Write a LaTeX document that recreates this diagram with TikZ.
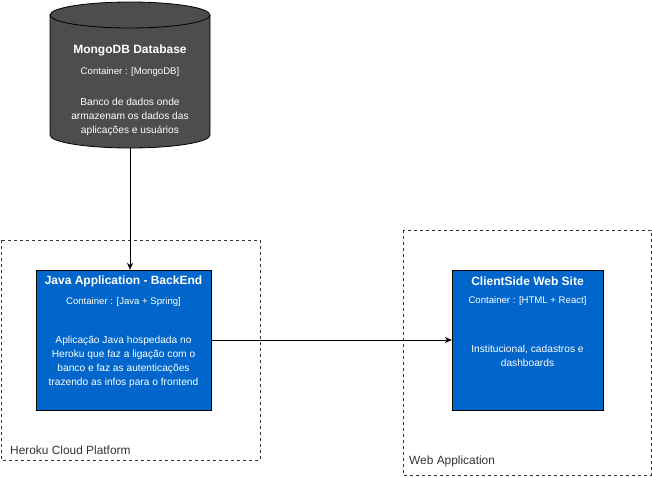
\documentclass[tikz,border=0pt]{standalone}
\usepackage{fontspec}
\setmainfont{Liberation Sans}
\usetikzlibrary{arrows.meta}

\definecolor{boxblue}{HTML}{0066CC}
\definecolor{dbgrey}{HTML}{4D4D4D}
\definecolor{labelgrey}{HTML}{333333}

\tikzset{
  container/.style={draw=black, fill=boxblue, minimum width=#1, minimum height=140pt, inner sep=0pt},
  group/.style={draw=black!80, dashed, inner sep=0pt},
  title/.style={text=white, font=\fontsize{12}{14}\selectfont\bfseries, inner sep=0pt},
  tech/.style={text=white, font=\fontsize{9.6}{11}\selectfont, inner sep=0pt},
  desc/.style={text=white, font=\fontsize{10.2}{14}\selectfont, align=center, inner sep=0pt},
  grouplabel/.style={text=labelgrey, font=\fontsize{11.9}{13}\selectfont, anchor=west, inner sep=0pt},
  conn/.style={-{Stealth[length=7pt,width=6pt]}, line width=0.8pt},
}

\begin{document}
\begin{tikzpicture}[x=1pt, y=-1pt]
\useasboundingbox (0,0) rectangle (652,477);

	% boundaries
	\draw[group] (1,240) rectangle (260,460);
	\node[grouplabel] (herokulabel) at (10,450) {Heroku Cloud Platform};
	\draw[group] (403,230) rectangle (651,475);
	\node[grouplabel] (weblabel) at (409,461) {Web Application};

	% database
\node[minimum width=160pt, minimum height=146pt, inner sep=0pt] (mongo) at (130,75) {};
\fill[dbgrey] (50,15) -- (50,135) arc[start angle=180, end angle=360, x radius=80pt, y radius=13pt] -- (210,15) arc[start angle=0, end angle=180, x radius=80pt, y radius=13pt] -- cycle;
\draw[line width=0.8pt] (50,15) -- (50,135) arc[start angle=180, end angle=360, x radius=80pt, y radius=13pt] -- (210,15) arc[start angle=0, end angle=180, x radius=80pt, y radius=13pt] -- cycle;
\draw[line width=0.8pt] (50,15) arc[start angle=180, end angle=360, x radius=80pt, y radius=13pt];
	\node[title] (mongotitle) at (130,50) {MongoDB Database};
	\node[tech] (mongotech) at (130,72) {Container : [MongoDB]};
	\node[desc] (mongodesc) at (130,117) {Banco de dados onde\\armazenam os dados das\\aplicações e usuários};

	% backend
\node[container=175pt] (java) at (123.5,340) {};
	\node[title] (javatitle) at (123.5,281) {Java Application - BackEnd};
	\node[tech] (javatech) at (123.5,302) {Container : [Java + Spring]};
	\node[desc] (javadesc) at (123.5,362) {Aplicação Java hospedada no\\Heroku que faz a ligação com o\\banco e faz as autenticações\\trazendo as infos para o frontend};

	% frontend
\node[container=151pt] (client) at (527.5,340) {};
	\node[title] (clienttitle) at (527.5,281) {ClientSide Web Site};
	\node[tech] (clienttech) at (527.5,301) {Container : [HTML + React]};
	\node[desc] (clientdesc) at (527.5,356) {Institucional, cadastros e\\dashboards};

\draw[conn] (mongo.south) -- (mongo.south |- java.north);
\draw[conn] (java.east) -- (client.west);

\end{tikzpicture}
\end{document}
